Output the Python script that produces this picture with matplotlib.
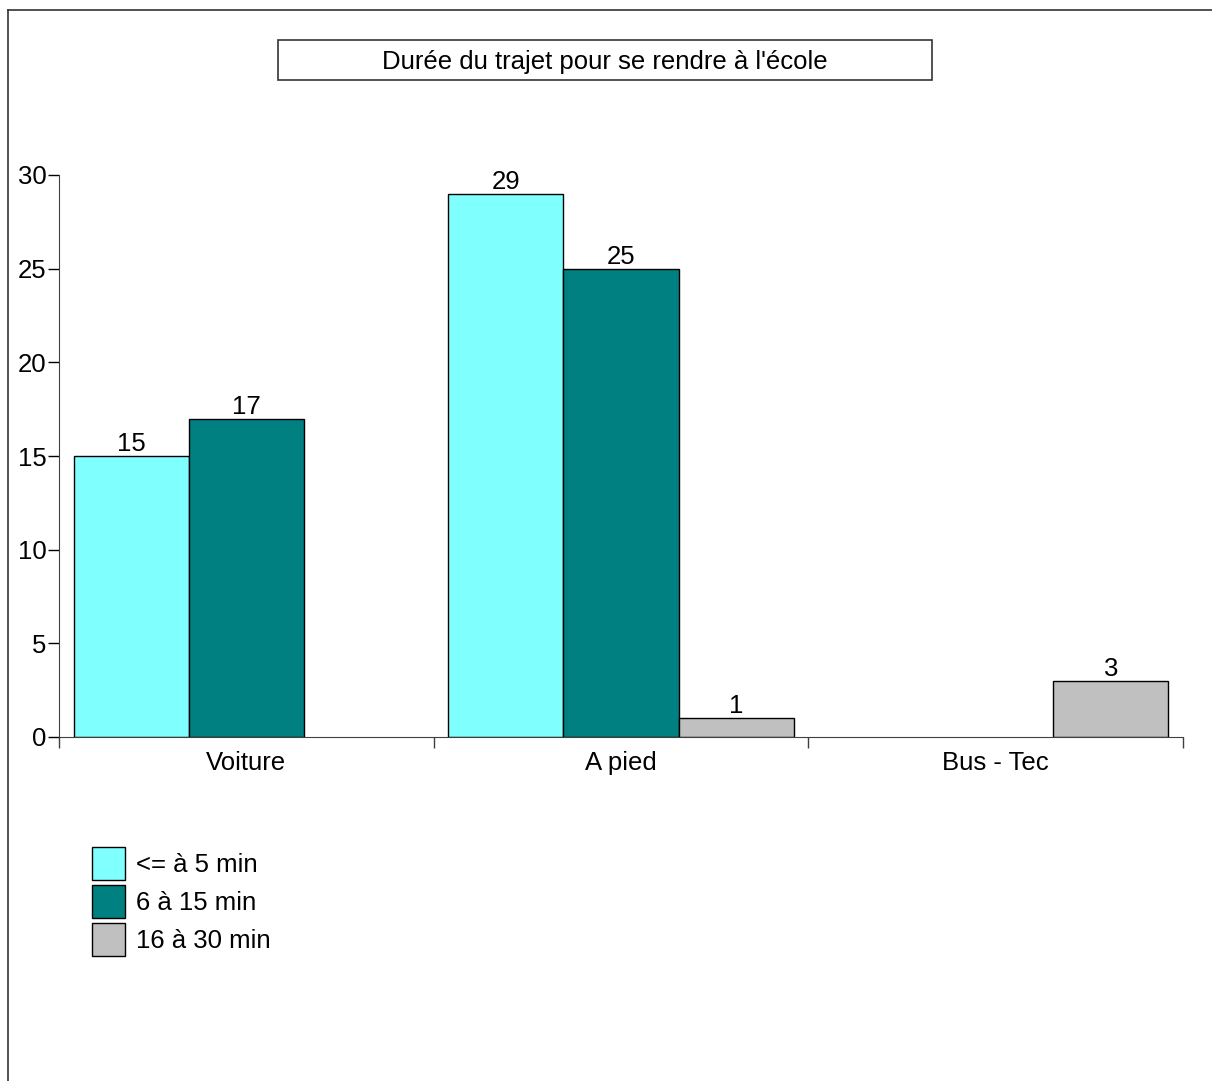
import matplotlib
matplotlib.use("Agg")
import matplotlib.pyplot as plt
import numpy as np
from matplotlib.patches import Rectangle
from matplotlib.lines import Line2D

# Data
categories = ["Voiture", "A pied", "Bus - Tec"]
series_names = ["<= à 5 min", "6 à 15 min", "16 à 30 min"]
short_trip = [15, 29, 0]
medium_trip = [17, 25, 0]
long_trip = [0, 1, 3]
colors = ["#80FFFF", "#008080", "#C0C0C0"]

plt.rcParams["font.family"] = ["Liberation Sans", "DejaVu Sans"]
plt.rcParams["font.size"] = 18.5

fig = plt.figure(figsize=(12.12, 10.81), dpi=100)
ax = fig.add_axes([59 / 1212, 1 - 737 / 1081, (1183 - 59) / 1212, (737 - 175) / 1081])

x = np.arange(len(categories))
width = 0.307
all_series = [short_trip, medium_trip, long_trip]
for i, (vals, name, col) in enumerate(zip(all_series, series_names, colors)):
  vals = np.array(vals, dtype=float)
  heights = np.where(vals > 0, vals, np.nan)
  bars = ax.bar(x + (i - 1) * width, heights, width, color=col, edgecolor="black",
                linewidth=1.0, label=name)
  labels = ["" if v == 0 else f"{int(v)}" for v in vals]
  ax.bar_label(bars, labels=labels, padding=0, fontsize=18.5)

ax.set_xlim(-0.5, 2.5)
ax.set_ylim(0, 30)
ax.set_yticks([0, 5, 10, 15, 20, 25, 30])
ax.tick_params(axis="y", length=8, width=1, pad=1, colors="black")

# Tick marks on category boundaries, labels at centers
ax.set_xticks([-0.5, 0.5, 1.5, 2.5])
ax.set_xticklabels([])
ax.tick_params(axis="x", which="major", length=8, width=1, color="#404040")
ax.set_xticks(x, minor=True)
ax.set_xticklabels(categories, minor=True)
ax.tick_params(axis="x", which="minor", length=0, pad=10)

ax.spines["top"].set_visible(False)
ax.spines["right"].set_visible(False)
ax.spines["left"].set_color("#404040")
ax.spines["bottom"].set_color("#404040")

# Legend
leg = ax.legend(loc="upper left", bbox_to_anchor=(92 / 1212, 1 - 847 / 1081),
                bbox_transform=fig.transFigure, frameon=False, fontsize=18.5,
                handlelength=1.27, handleheight=1.6, labelspacing=0.2,
                handletextpad=0.45, borderaxespad=0, borderpad=0)

# Outer frame lines (left and top)
fig.add_artist(Line2D([8 / 1212, 8 / 1212], [0, 1 - 10 / 1081], color="#333333", linewidth=1.2))
fig.add_artist(Line2D([8 / 1212, 1], [1 - 10 / 1081, 1 - 10 / 1081], color="#333333", linewidth=1.2))

# Title box
fig.add_artist(Rectangle((278 / 1212, 1 - 80 / 1081), (932 - 278) / 1212, 40 / 1081,
                         transform=fig.transFigure, fill=False, edgecolor="#333333", linewidth=1.2))
fig.text(605 / 1212, 1 - 62 / 1081, "Durée du trajet pour se rendre à l'école",
         ha="center", va="center", fontsize=18.5)

fig.savefig("out.png", dpi=100)
